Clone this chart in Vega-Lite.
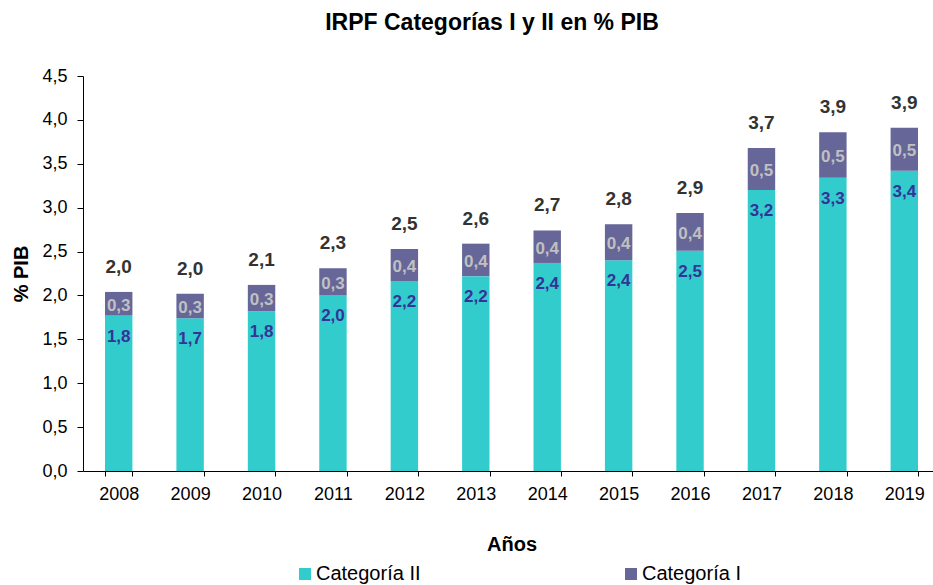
{
  "$schema": "https://vega.github.io/schema/vega-lite/v6.json",
  "width": 850,
  "height": 395,
  "autosize": {"type": "none"},
  "padding": {"left": 83, "top": 76, "right": 0, "bottom": 114},
  "title": {"text": "IRPF Categorías I y II en % PIB", "font": "Liberation Sans", "fontSize": 23, "fontWeight": "bold", "color": "#000000", "anchor": "middle", "dx": -16, "offset": 32},
  "data": {
    "values": [
      {"year": "2008", "cat": "Categoría II", "value": 1.77}, {"year": "2008", "cat": "Categoría I", "value": 0.27},
      {"year": "2009", "cat": "Categoría II", "value": 1.74}, {"year": "2009", "cat": "Categoría I", "value": 0.28},
      {"year": "2010", "cat": "Categoría II", "value": 1.82}, {"year": "2010", "cat": "Categoría I", "value": 0.3},
      {"year": "2011", "cat": "Categoría II", "value": 2.0}, {"year": "2011", "cat": "Categoría I", "value": 0.31},
      {"year": "2012", "cat": "Categoría II", "value": 2.16}, {"year": "2012", "cat": "Categoría I", "value": 0.37},
      {"year": "2013", "cat": "Categoría II", "value": 2.22}, {"year": "2013", "cat": "Categoría I", "value": 0.37},
      {"year": "2014", "cat": "Categoría II", "value": 2.37}, {"year": "2014", "cat": "Categoría I", "value": 0.37},
      {"year": "2015", "cat": "Categoría II", "value": 2.4}, {"year": "2015", "cat": "Categoría I", "value": 0.41},
      {"year": "2016", "cat": "Categoría II", "value": 2.51}, {"year": "2016", "cat": "Categoría I", "value": 0.43},
      {"year": "2017", "cat": "Categoría II", "value": 3.2}, {"year": "2017", "cat": "Categoría I", "value": 0.48},
      {"year": "2018", "cat": "Categoría II", "value": 3.34}, {"year": "2018", "cat": "Categoría I", "value": 0.52},
      {"year": "2019", "cat": "Categoría II", "value": 3.42}, {"year": "2019", "cat": "Categoría I", "value": 0.49}
    ]
  },
  "encoding": {
    "x": {
      "field": "year", "type": "nominal",
      "scale": {"range": [0, 857], "paddingInner": 0.616, "paddingOuter": 0.308},
      "axis": {"title": "Años", "labelAngle": 0, "tickBand": "extent", "tickSize": 5, "labelPadding": 9, "titleFontSize": 20, "titleFontWeight": "bold", "titleY": 63.5, "titleBaseline": "top"}
    }
  },
  "layer": [
    {
      "mark": {"type": "bar"},
      "encoding": {
        "y": {
          "field": "value", "type": "quantitative",
          "scale": {"domain": [0, 4.5]},
          "axis": {"title": "% PIB", "values": [0, 0.5, 1, 1.5, 2, 2.5, 3, 3.5, 4, 4.5], "format": ".1f", "tickSize": 6, "labelPadding": 10, "titleFontSize": 20, "titleFontWeight": "bold", "titlePadding": 10}
        },
        "color": {
          "field": "cat", "type": "nominal",
          "scale": {"domain": ["Categoría II", "Categoría I"], "range": ["#33CCCC", "#666699"]},
          "legend": {"title": null, "orient": "none", "legendX": 212, "legendY": 488, "direction": "horizontal", "columnPadding": 200, "symbolType": "square", "symbolSize": 144, "symbolStrokeWidth": 0, "labelFontSize": 20, "labelFont": "Liberation Sans", "labelColor": "#000000", "labelOffset": 1, "padding": 0}
        },
        "order": {"field": "cat", "sort": "descending"}
      }
    },
    {
      "transform": [{"filter": "datum.cat === 'Categoría II'"}],
      "mark": {"type": "text", "font": "Liberation Sans", "fontWeight": "bold", "fontSize": 17, "color": "#333399", "baseline": "middle", "dy": 21},
      "encoding": {
        "y": {"field": "value", "type": "quantitative", "title": "% PIB"},
        "text": {"field": "value", "type": "quantitative", "format": ".1f"}
      }
    },
    {
      "transform": [
        {"stack": "value", "groupby": ["year"], "sort": [{"field": "cat", "order": "descending"}], "as": ["v0", "v1"]},
        {"filter": "datum.cat === 'Categoría I'"},
        {"fold": ["v0", "v1"], "as": ["edge", "pos"]},
        {"aggregate": [{"op": "mean", "field": "pos", "as": "mid"}, {"op": "mean", "field": "value", "as": "lab"}], "groupby": ["year"]}
      ],
      "mark": {"type": "text", "font": "Liberation Sans", "fontWeight": "bold", "fontSize": 17, "color": "#C0C0C0", "baseline": "middle", "dy": 2},
      "encoding": {
        "y": {"field": "mid", "type": "quantitative", "title": "% PIB"},
        "text": {"field": "lab", "type": "quantitative", "format": ".1f"}
      }
    },
    {
      "transform": [{"aggregate": [{"op": "sum", "field": "value", "as": "total"}], "groupby": ["year"]}],
      "mark": {"type": "text", "font": "Liberation Sans", "fontWeight": "bold", "fontSize": 19, "color": "#333333", "baseline": "middle", "dy": -25},
      "encoding": {
        "y": {"field": "total", "type": "quantitative", "title": "% PIB"},
        "text": {"field": "total", "type": "quantitative", "format": ".1f"}
      }
    }
  ],
  "config": {
    "view": {"stroke": null},
    "font": "Liberation Sans",
    "locale": {"number": {"decimal": ",", "thousands": ".", "grouping": [3], "currency": ["", "€"]}},
    "axis": {"domainColor": "#000000", "tickColor": "#000000", "labelColor": "#000000", "titleColor": "#000000", "labelFont": "Liberation Sans", "titleFont": "Liberation Sans", "labelFontSize": 18, "grid": false, "domainWidth": 1, "tickWidth": 1}
  }
}
